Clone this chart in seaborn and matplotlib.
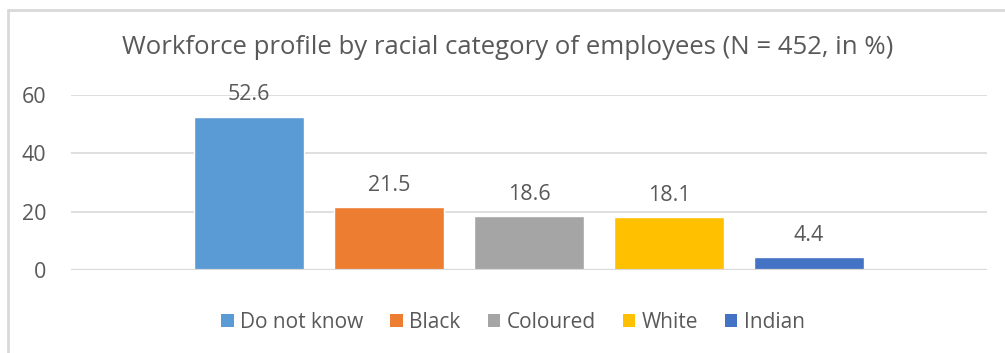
import matplotlib
matplotlib.use("Agg")
import matplotlib.pyplot as plt
from matplotlib.lines import Line2D
from matplotlib.patches import Patch
import pandas as pd
import seaborn as sns

# Workforce data (N = 452, in %)
categories = ["Do not know", "Black", "Coloured", "White", "Indian"]
values = [52.6, 21.5, 18.6, 18.1, 4.4]
colors = ["#5B9BD5", "#ED7D31", "#A5A5A5", "#FFC000", "#4472C4"]
yticks = [0, 20, 40, 60]
title = "Workforce profile by racial category of employees (N = 452, in %)"

sns.set_theme(style="white")
plt.rcParams["font.family"] = ["Open Sans", "DejaVu Sans"]
text_color = "#595959"
grid_color = "#D9D9D9"

df = pd.DataFrame({"group": [""] * len(categories),
                   "category": categories,
                   "value": values})

W, H = 1005, 353
fig = plt.figure(figsize=(W / 100, H / 100), dpi=100)
ax = fig.add_axes([71 / W, 1 - 270 / H, (987 - 71) / W, (270 - 95) / H])

sns.barplot(data=df, x="group", y="value", hue="category",
            hue_order=categories, palette=colors, width=0.764, gap=0.214,
            saturation=1, legend=False, ax=ax, errorbar=None)

ax.set_xlim(-0.5, 0.5)
ax.set_ylim(0, 60)
ax.set_yticks(yticks)
ax.set_yticklabels([str(t) for t in yticks])
ax.set_xticks([])
ax.set_xlabel("")
ax.set_ylabel("")
ax.tick_params(axis="y", length=0, pad=18, labelsize=15.5, labelcolor=text_color)
ax.grid(axis="y", color=grid_color, linewidth=1.2)
ax.set_axisbelow(True)
for s in ax.spines.values():
    s.set_visible(False)
ax.axhline(0, color=grid_color, linewidth=1.6, zorder=1)

for cont in ax.containers:
    ax.bar_label(cont, labels=[f"{v:.1f}" for v in cont.datavalues],
                 padding=8, fontsize=15.5, color=text_color, clip_on=False)

fig.text(508 / W, 1 - 48 / H, title, ha="center", va="center",
         fontsize=18.5, color=text_color)

handles = [Patch(facecolor=c, edgecolor="none") for c in colors]
fig.legend(handles, categories, loc="center", bbox_to_anchor=(513 / W, 1 - 322 / H),
           ncol=5, frameon=False, fontsize=15, labelcolor=text_color,
           handlelength=0.6, handleheight=0.6, handletextpad=0.3,
           columnspacing=1.3)

# Chart frame (top and left edges)
fig.add_artist(Line2D([8 / W, 1.0], [1 - 10 / H, 1 - 10 / H],
                      transform=fig.transFigure, color=grid_color, linewidth=2))
fig.add_artist(Line2D([8 / W, 8 / W], [1 - 10 / H, 0.0],
                      transform=fig.transFigure, color=grid_color, linewidth=2))

fig.savefig("out.png", dpi=100, facecolor="white")
